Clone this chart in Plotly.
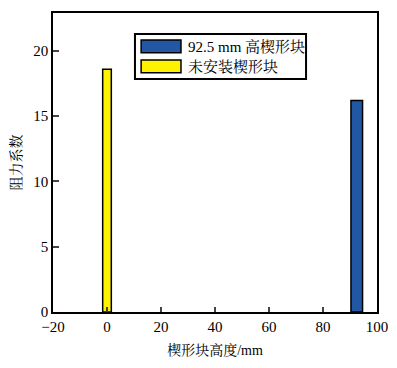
import plotly.graph_objects as go

# data
series_names = ["92.5 mm 高楔形块", "未安装楔形块"]
heights = [92.5, 0]
drag_coeffs = [16.2, 18.6]
bar_widths = [4.3, 3.2]
colors = ["#2157A3", "#FFF200"]

x_label = "楔形块高度/mm"
y_label = "阻力系数"
x_ticks = [-20, 0, 20, 40, 60, 80, 100]
y_ticks = [0, 5, 10, 15, 20]

FONT = "Liberation Serif, Noto Serif CJK SC, Noto Sans CJK SC, serif"

fig = go.Figure()
for name, h, v, w, c in zip(series_names, heights, drag_coeffs, bar_widths, colors):
    fig.add_trace(go.Bar(x=[h], y=[v], width=[w], name=name,
                         marker=dict(color=c, line=dict(color="black", width=1.5)),
                         showlegend=False))

fig.update_layout(
    width=397, height=368,
    margin=dict(l=45, r=28, t=5, b=64),
    plot_bgcolor="white", paper_bgcolor="white",
    font=dict(family=FONT, size=15, color="black"),
    barmode="overlay",
    xaxis=dict(range=[-20, 100], tickvals=x_ticks, ticks="inside", ticklen=5, tickwidth=1.5,
               showline=True, linecolor="black", linewidth=1.5, mirror=True, showgrid=False,
               zeroline=False, automargin=False,
               title=dict(text=x_label, standoff=11, font=dict(size=14))),
    yaxis=dict(range=[0, 22.9], tickvals=y_ticks, ticks="inside", ticklen=6, tickwidth=1.5,
               showline=True, linecolor="black", linewidth=1.5, mirror=True, showgrid=False,
               zeroline=False, automargin=False,
               title=dict(text=y_label, standoff=12, font=dict(size=14))),
)

# custom legend
fig.add_shape(type="rect", xref="paper", yref="paper", x0=0.253, x1=0.781, y0=0.779, y1=0.930,
              line=dict(color="black", width=2), fillcolor="white", layer="above")
swatch_y = [(0.867, 0.910), (0.800, 0.843)]
for (y0, y1), name, c in zip(swatch_y, series_names, colors):
    fig.add_shape(type="rect", xref="paper", yref="paper", x0=0.272, x1=0.395, y0=y0, y1=y1,
                  line=dict(color="black", width=1.5), fillcolor=c, layer="above")
    fig.add_annotation(xref="paper", yref="paper", x=0.410, y=(y0 + y1) / 2, text=name,
                       showarrow=False, xanchor="left", yanchor="middle",
                       font=dict(family=FONT, size=15, color="black"))

fig.write_html("out.html")
